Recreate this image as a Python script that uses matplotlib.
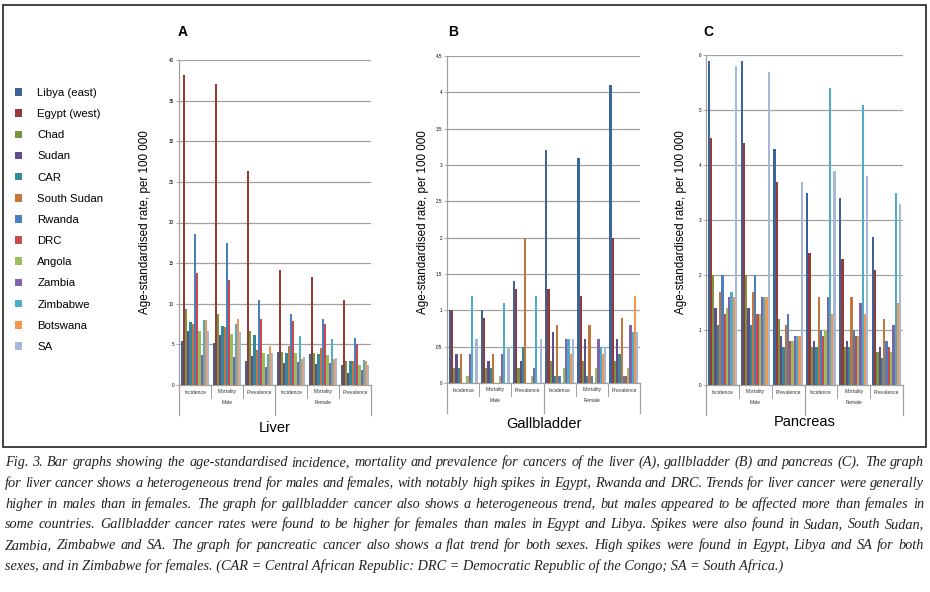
import numpy as np
import matplotlib.pyplot as plt
from matplotlib.patches import Rectangle

W, H = 930, 592

countries = ['Libya (east)', 'Egypt (west)', 'Chad', 'Sudan', 'CAR', 'South Sudan',
             'Rwanda', 'DRC', 'Angola', 'Zambia', 'Zimbabwe', 'Botswana', 'SA']
colors = ['#3D6498', '#953A39', '#77953C', '#634D88', '#35889A', '#C4763A',
          '#4B7DC2', '#C64B4A', '#9BBD5E', '#8064A8', '#4BADC7', '#F5964C', '#A6B8D6']
measures = ['Incidence', 'Mortality', 'Prevalence']
sexes = ['Male', 'Female']

# rows: male inc / mort / prev, female inc / mort / prev ; columns: countries
liver = [
    [5.4, 38.2, 9.3, 6.6, 7.7, 7.5, 18.6, 13.8, 6.7, 3.7, 8.0, 8.0, 6.6],
    [5.2, 37.0, 8.8, 6.2, 7.3, 7.1, 17.5, 12.9, 6.3, 3.5, 7.5, 8.1, 6.5],
    [3.0, 26.3, 6.7, 3.6, 6.1, 4.3, 10.5, 8.1, 3.9, 2.2, 3.8, 4.8, 4.0],
    [4.1, 14.1, 4.1, 2.7, 4.0, 4.8, 8.7, 7.9, 3.9, 2.8, 6.0, 3.2, 3.5],
    [3.8, 13.3, 3.9, 2.6, 3.8, 4.5, 8.1, 7.5, 3.7, 2.7, 5.7, 3.2, 3.3],
    [2.5, 10.5, 2.9, 1.5, 3.0, 2.9, 5.8, 5.1, 2.5, 1.8, 3.1, 2.9, 2.5],
]
gallbladder = [
    [1.0, 1.0, 0.2, 0.4, 0.2, 0.4, 0.0, 0.0, 0.1, 0.4, 1.2, 0.0, 0.6],
    [1.0, 0.9, 0.2, 0.3, 0.2, 0.4, 0.0, 0.0, 0.1, 0.4, 1.1, 0.0, 0.5],
    [1.4, 1.3, 0.2, 0.3, 0.5, 2.0, 0.0, 0.0, 0.1, 0.2, 1.2, 0.0, 0.6],
    [3.2, 1.3, 0.3, 0.7, 0.1, 0.8, 0.1, 0.0, 0.2, 0.6, 0.6, 0.4, 0.6],
    [3.1, 1.2, 0.3, 0.6, 0.1, 0.8, 0.1, 0.0, 0.2, 0.6, 0.5, 0.4, 0.5],
    [4.1, 2.0, 0.3, 0.6, 0.4, 0.9, 0.1, 0.1, 0.2, 0.8, 0.7, 1.2, 0.7],
]
pancreas = [
    [5.9, 4.5, 2.0, 1.4, 1.1, 1.7, 2.0, 1.3, 1.4, 1.6, 1.7, 1.6, 5.8],
    [5.9, 4.4, 2.0, 1.4, 1.1, 1.7, 2.0, 1.3, 1.3, 1.6, 1.6, 1.6, 5.7],
    [4.3, 3.7, 1.2, 0.9, 0.7, 1.1, 1.3, 0.8, 0.8, 0.9, 0.9, 0.9, 3.7],
    [3.5, 2.4, 0.7, 0.8, 0.7, 1.6, 1.0, 0.9, 1.0, 1.6, 5.4, 1.3, 3.9],
    [3.4, 2.3, 0.7, 0.8, 0.7, 1.6, 1.0, 0.9, 0.9, 1.5, 5.1, 1.3, 3.8],
    [2.7, 2.1, 0.6, 0.7, 0.5, 1.2, 0.8, 0.7, 0.6, 1.1, 3.5, 1.5, 3.3],
]

caption = [
    "Fig. 3. Bar graphs showing the age-standardised incidence, mortality and prevalence for cancers of the liver (A), gallbladder (B) and pancreas (C). The graph",
    "for liver cancer shows a heterogeneous trend for males and females, with notably high spikes in Egypt, Rwanda and DRC. Trends for liver cancer were generally",
    "higher in males than in females. The graph for gallbladder cancer also shows a heterogeneous trend, but males appeared to be affected more than females in",
    "some countries. Gallbladder cancer rates were found to be higher for females than males in Egypt and Libya. Spikes were also found in Sudan, South Sudan,",
    "Zambia, Zimbabwe and SA. The graph for pancreatic cancer also shows a flat trend for both sexes. High spikes were found in Egypt, Libya and SA for both",
    "sexes, and in Zimbabwe for females. (CAR = Central African Republic: DRC = Democratic Republic of the Congo; SA = South Africa.)",
]

plt.rcParams['font.family'] = ['Liberation Sans', 'DejaVu Sans']

fig = plt.figure(figsize=(W / 100, H / 100), dpi=100)


def px_box(left, top, right, bottom):
    return [left / W, 1 - bottom / H, (right - left) / W, (bottom - top) / H]


panels = [
    # data, letter, title, box (px), ymax, ystep, letter x, ylabel x, title offset
    (liver, 'A', 'Liver', (179, 60, 371, 385), 40, 5, 183, 145, 43),
    (gallbladder, 'B', 'Gallbladder', (447, 56, 640, 383), 4.5, 0.5, 453, 423, 41),
    (pancreas, 'C', 'Pancreas', (706, 55, 903, 385), 6, 1, 708, 681, 37),
]

n = len(countries)
w = 1.0 / (n + 1.5)
groups = np.arange(6) + 0.5
grey = '#A0A0A0'

for data, letter, title, box, ymax, ystep, lx, ylx, toff in panels:
    ax = fig.add_axes(px_box(*box))
    vals = np.array(data)
    for k in range(n):
        ax.bar(groups + (k - (n - 1) / 2) * w, vals[:, k], width=w,
               color=colors[k], label=countries[k], linewidth=0, zorder=3)
    ax.set_xlim(0, 6)
    ax.set_ylim(0, ymax)
    ticks = np.arange(0, ymax + ystep / 2, ystep)
    ax.set_yticks(ticks)
    ax.set_yticklabels(['%g' % t for t in ticks])
    ax.yaxis.grid(True, color=grey, linewidth=0.9)
    ax.set_axisbelow(True)
    ax.set_xticks([])
    ax.tick_params(axis='y', labelsize=3.3, length=2, width=0.6, color=grey, pad=1.5)
    for s in ['top', 'right']:
        ax.spines[s].set_visible(False)
    for s in ['left', 'bottom']:
        ax.spines[s].set_color(grey)
        ax.spines[s].set_linewidth(0.9)

    hpx = box[3] - box[1]
    tr = ax.get_xaxis_transform()
    for g in range(6):
        ax.text(groups[g], -7 / hpx, measures[g % 3], transform=tr, ha='center',
                va='center', fontsize=3.6, color='#333333')
    for si, sex in enumerate(sexes):
        ax.text(1.5 + 3 * si, -18 / hpx, sex, transform=tr, ha='center',
                va='center', fontsize=3.6, color='#333333')
    for x in [1, 2, 4, 5]:
        ax.plot([x, x], [0, -13 / hpx], transform=tr, color=grey, lw=0.7,
                clip_on=False)
    for x in [0, 3, 6]:
        ax.plot([x, x], [0, -30 / hpx], transform=tr, color=grey, lw=0.9,
                clip_on=False)
    ax.text(3, -toff / hpx, title, transform=tr, ha='center', va='center',
            fontsize=10.5)

    fig.text(lx / W, 1 - 32 / H, letter, ha='center', va='center',
             fontsize=10, fontweight='bold')
    fig.text(ylx / W, 1 - 222 / H, 'Age-standardised rate, per 100 000',
             rotation=90, ha='center', va='center', fontsize=8.4)

    if letter == 'A':
        handles, labels = ax.get_legend_handles_labels()

fig.legend(handles, labels, loc='upper left',
           bbox_to_anchor=(15 / W, 1 - 88 / H), frameon=False, fontsize=8.2,
           handlelength=0.65, handleheight=0.65, handletextpad=1.3,
           labelspacing=0.98, borderpad=0, borderaxespad=0)

fig.patches.append(Rectangle((3 / W, 1 - 447 / H), 923 / W, 442 / H,
                             transform=fig.transFigure, fill=False,
                             edgecolor='#222222', linewidth=1.2))

# caption, justified between x=5 and x=924 (last line left-aligned)
renderer = fig.canvas.get_renderer()
cap_kw = dict(ha='left', va='baseline', fontsize=10.25, style='italic',
              family=['Liberation Serif', 'DejaVu Serif'], color='#222222')
x0, x1 = 5, 924
for i, line in enumerate(caption):
    y = 1 - (466 + i * 20.8) / H
    if i == len(caption) - 1:
        fig.text(x0 / W, y, line, **cap_kw)
        continue
    words = line.split(' ')
    items = [fig.text(0, y, wd, **cap_kw) for wd in words]
    widths = [t.get_window_extent(renderer).width for t in items]
    gap = (x1 - x0 - sum(widths)) / (len(words) - 1)
    x = x0
    for t, wd in zip(items, widths):
        t.set_x(x / W)
        x += wd + gap

fig.savefig('out.png', dpi=100)
